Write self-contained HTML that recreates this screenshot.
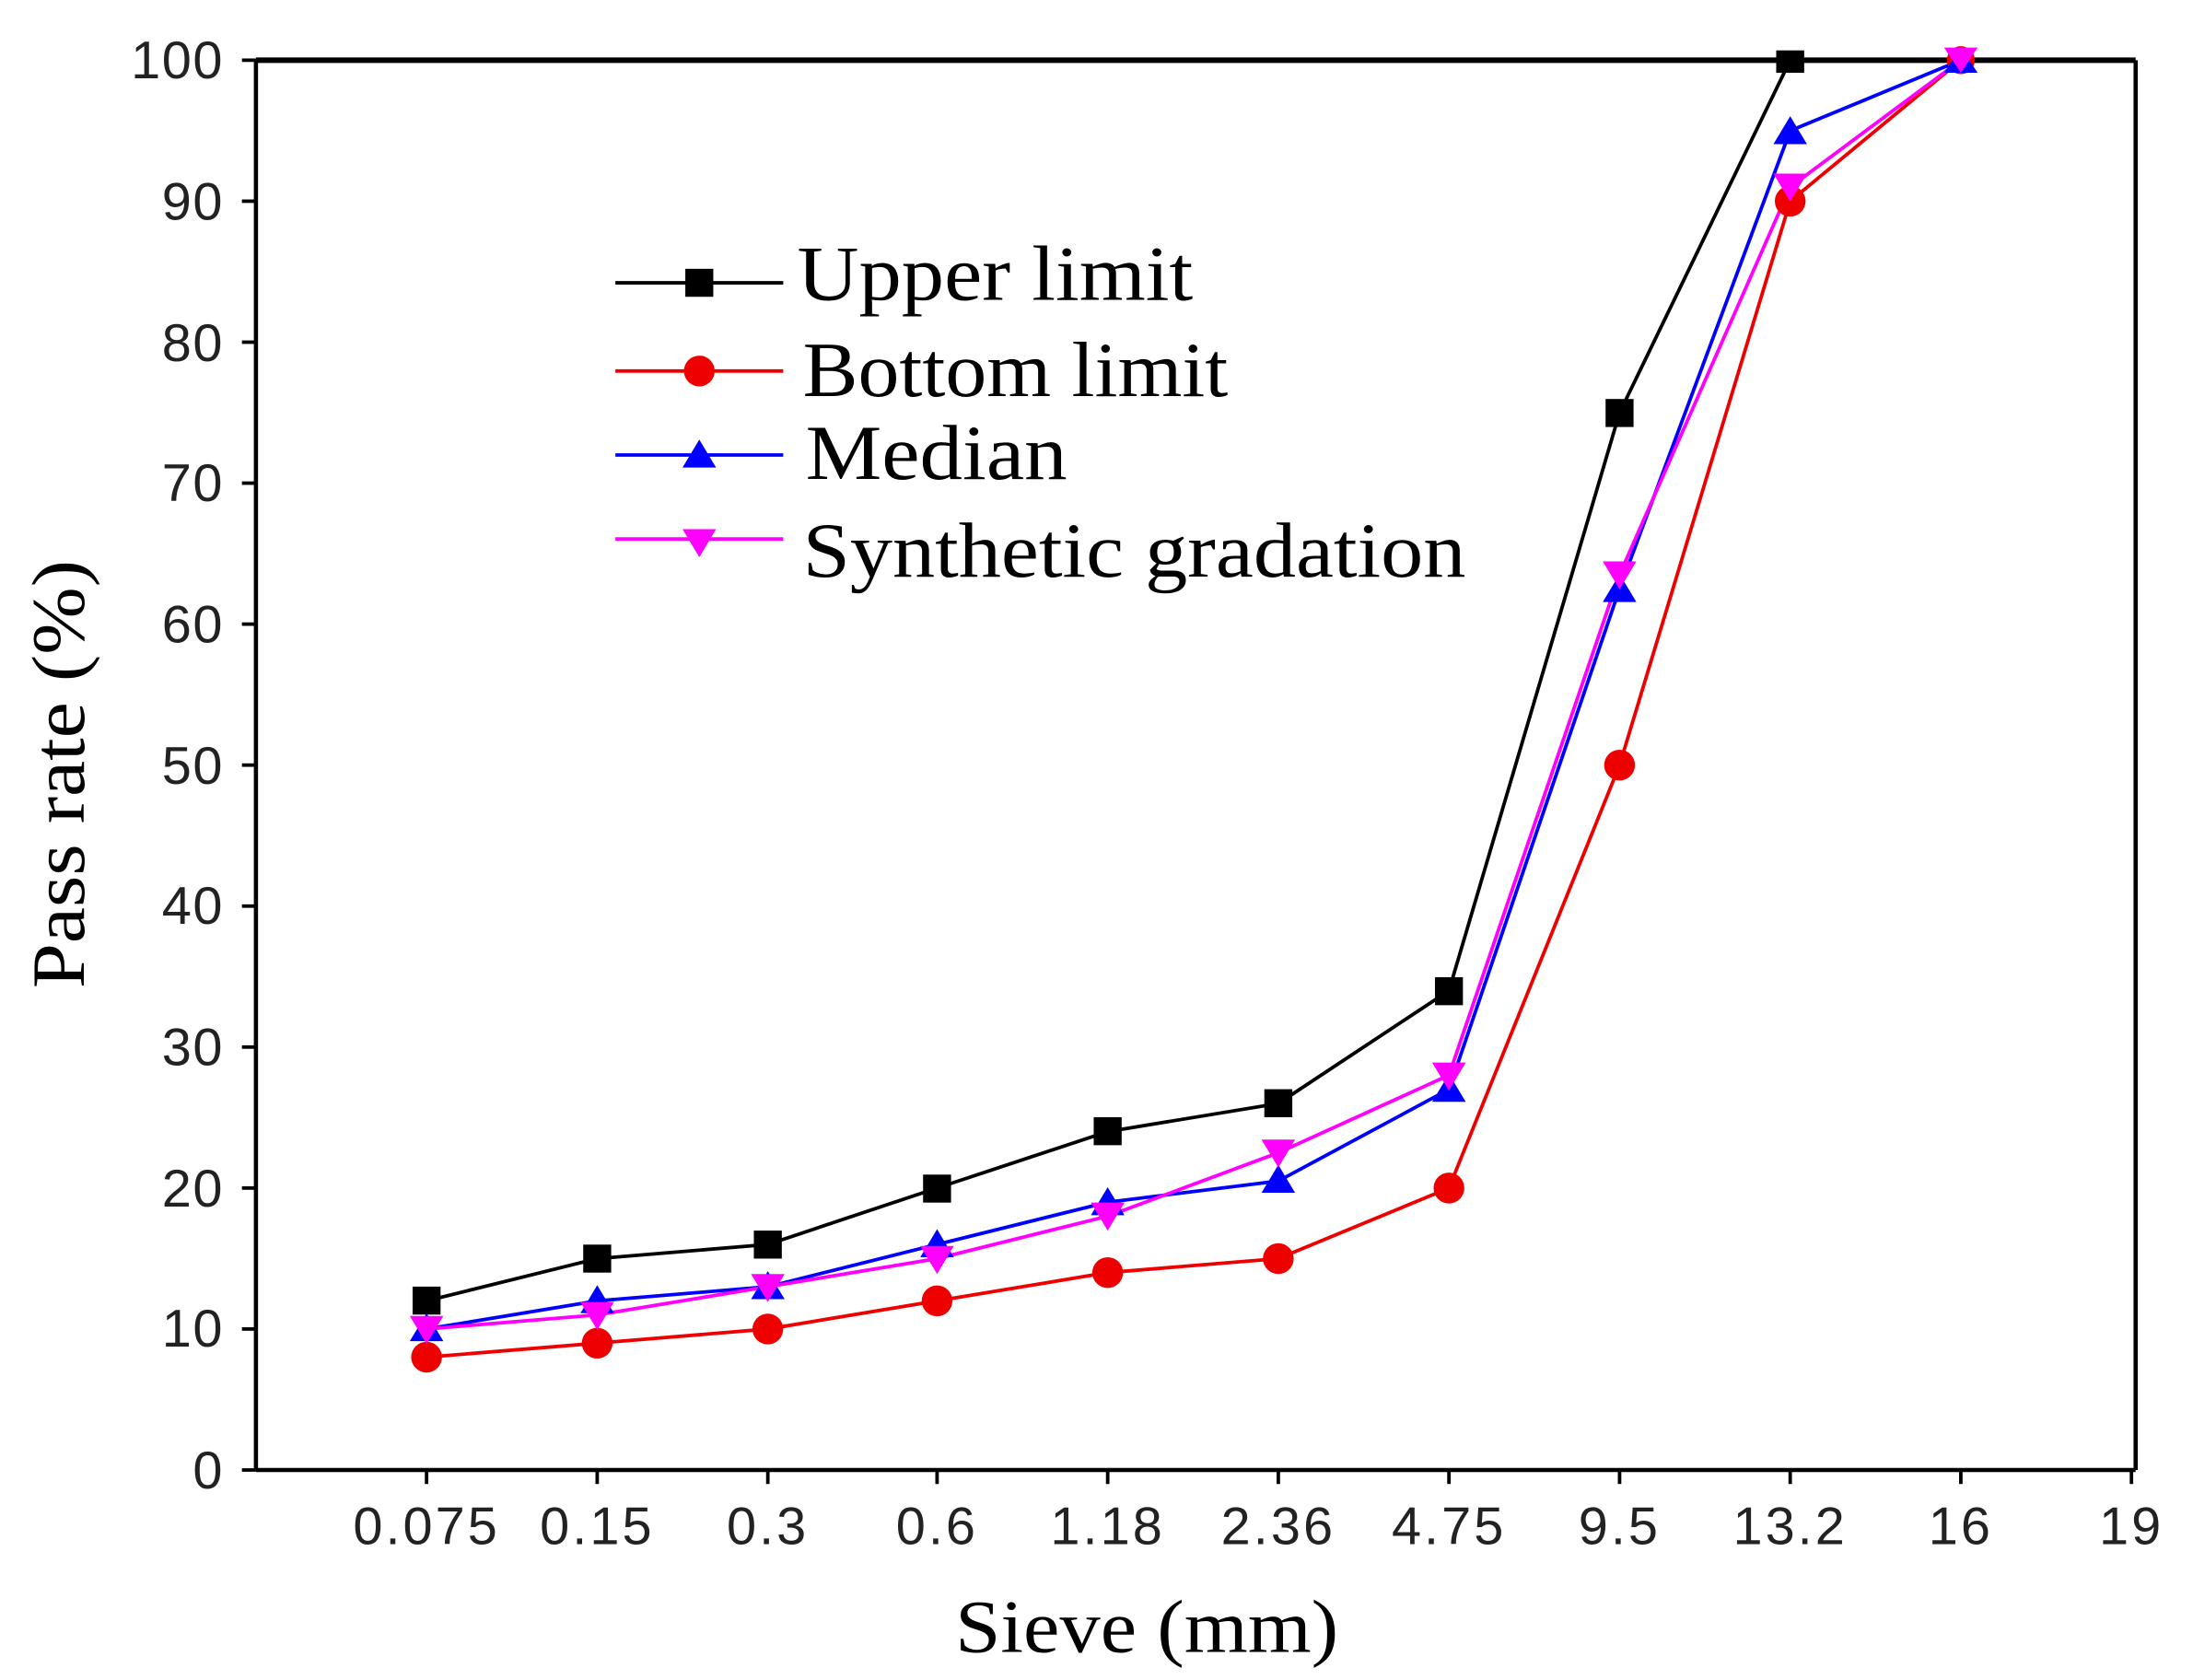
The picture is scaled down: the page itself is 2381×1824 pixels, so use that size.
<!DOCTYPE html>
<html><head><meta charset="utf-8"><style>html,body{margin:0;padding:0;background:#fff}svg{display:block}</style></head>
<body>
<svg width="2381" height="1824" viewBox="0 0 1568 1200" preserveAspectRatio="none" xmlns="http://www.w3.org/2000/svg">
<rect width="1568" height="1200" fill="#fff"/>
<g stroke="#000" stroke-width="3" fill="none">
<line x1="183" y1="43" x2="1527" y2="43" stroke-width="4"/>
<line x1="183" y1="43" x2="183" y2="1050"/>
<line x1="183" y1="1050" x2="1527" y2="1050"/>
<line x1="1527" y1="43" x2="1527" y2="1050"/>
</g>
<g stroke="#000" stroke-width="2.5">
<line x1="173" y1="1050" x2="183" y2="1050"/><line x1="173" y1="949.3" x2="183" y2="949.3"/><line x1="173" y1="848.6" x2="183" y2="848.6"/><line x1="173" y1="747.9" x2="183" y2="747.9"/><line x1="173" y1="647.2" x2="183" y2="647.2"/><line x1="173" y1="546.5" x2="183" y2="546.5"/><line x1="173" y1="445.8" x2="183" y2="445.8"/><line x1="173" y1="345.1" x2="183" y2="345.1"/><line x1="173" y1="244.4" x2="183" y2="244.4"/><line x1="173" y1="143.7" x2="183" y2="143.7"/><line x1="173" y1="43" x2="183" y2="43"/>
<line x1="305" y1="1050" x2="305" y2="1060"/><line x1="427" y1="1050" x2="427" y2="1060"/><line x1="549" y1="1050" x2="549" y2="1060"/><line x1="670" y1="1050" x2="670" y2="1060"/><line x1="792" y1="1050" x2="792" y2="1060"/><line x1="914" y1="1050" x2="914" y2="1060"/><line x1="1036" y1="1050" x2="1036" y2="1060"/><line x1="1158" y1="1050" x2="1158" y2="1060"/><line x1="1280" y1="1050" x2="1280" y2="1060"/><line x1="1402" y1="1050" x2="1402" y2="1060"/><line x1="1524" y1="1050" x2="1524" y2="1060"/>
</g>
<g font-family="Liberation Sans, sans-serif" font-size="38" fill="#222" text-anchor="end" letter-spacing="1">
<text x="160" y="1063">0</text><text x="160" y="962">10</text><text x="160" y="862">20</text><text x="160" y="761">30</text><text x="160" y="660">40</text><text x="160" y="560">50</text><text x="160" y="459">60</text><text x="160" y="358">70</text><text x="160" y="258">80</text><text x="160" y="157">90</text><text x="160" y="56">100</text>
</g>
<g font-family="Liberation Sans, sans-serif" font-size="38" fill="#222" text-anchor="middle" letter-spacing="2">
<text x="305" y="1103">0.075</text><text x="427" y="1103">0.15</text><text x="549" y="1103">0.3</text><text x="670" y="1103">0.6</text><text x="792" y="1103">1.18</text><text x="914" y="1103">2.36</text><text x="1036" y="1103">4.75</text><text x="1158" y="1103">9.5</text><text x="1280" y="1103">13.2</text><text x="1402" y="1103">16</text><text x="1524" y="1103">19</text>
</g>
<text x="683" y="1180" font-family="Liberation Serif, serif" font-size="54" textLength="274" lengthAdjust="spacingAndGlyphs">Sieve (mm)</text>
<text transform="translate(60,706) rotate(-90)" font-family="Liberation Serif, serif" font-size="54" textLength="306" lengthAdjust="spacingAndGlyphs">Pass rate (%)</text>
<polyline fill="none" stroke="#000" stroke-width="2.5" points="305,929.2 427,899 549,888.9 670,848.6 792,808.3 914,788.2 1036,707.6 1158,294.8 1280,43 1402,43"/>
<polyline fill="none" stroke="#e00" stroke-width="2.5" points="305,969.4 427,959.4 549,949.3 670,929.2 792,909 914,899 1036,848.6 1158,546.5 1280,143.7 1402,43"/>
<polyline fill="none" stroke="#00f" stroke-width="2.5" points="305,949.3 427,929.2 549,919.1 670,888.9 792,858.7 914,843.6 1036,778.1 1158,420.6 1280,93.4 1402,43"/>
<polyline fill="none" stroke="#f0f" stroke-width="2.5" points="305,949.3 427,939.2 549,919.1 670,899 792,868.7 914,823.4 1036,768 1158,410.5 1280,133.6 1402,43"/>
<g fill="#000">
<rect x="295" y="919" width="20" height="20"/><rect x="417" y="889" width="20" height="20"/><rect x="539" y="879" width="20" height="20"/><rect x="660" y="839" width="20" height="20"/><rect x="782" y="798" width="20" height="20"/><rect x="904" y="778" width="20" height="20"/><rect x="1026" y="698" width="20" height="20"/><rect x="1148" y="285" width="20" height="20"/><rect x="1270" y="36" width="20" height="16"/>
</g>
<g fill="#e00">
<circle cx="305" cy="969.4" r="11"/><circle cx="427" cy="959.4" r="11"/><circle cx="549" cy="949.3" r="11"/><circle cx="670" cy="929.2" r="11"/><circle cx="792" cy="909" r="11"/><circle cx="914" cy="899" r="11"/><circle cx="1036" cy="848.6" r="11"/><circle cx="1158" cy="546.5" r="11"/><circle cx="1280" cy="143.7" r="11"/><circle cx="1402" cy="43" r="10"/>
</g>
<g fill="#00f">
<path d="M305,938 l12,20 h-24z"/><path d="M427,918 l12,20 h-24z"/><path d="M549,908 l12,20 h-24z"/><path d="M670,878 l12,20 h-24z"/><path d="M792,848 l12,20 h-24z"/><path d="M914,832 l12,20 h-24z"/><path d="M1036,767 l12,20 h-24z"/><path d="M1158,410 l12,20 h-24z"/><path d="M1280,83 l12,20 h-24z"/><path d="M1402,34 l12,18 h-24z"/>
</g>
<g fill="#f0f">
<path d="M305,960 l12,-20 h-24z"/><path d="M427,950 l12,-20 h-24z"/><path d="M549,930 l12,-20 h-24z"/><path d="M670,910 l12,-20 h-24z"/><path d="M792,879 l12,-20 h-24z"/><path d="M914,834 l12,-20 h-24z"/><path d="M1036,779 l12,-20 h-24z"/><path d="M1158,421 l12,-20 h-24z"/><path d="M1280,144 l12,-20 h-24z"/><path d="M1402,52 l12,-18 h-24z"/>
</g>
<line x1="440" y1="202" x2="560" y2="202" stroke="#000" stroke-width="2.5"/><rect x="490" y="192" width="20" height="20" fill="#000"/>
<line x1="440" y1="265" x2="560" y2="265" stroke="#e00" stroke-width="2.5"/><circle cx="500" cy="265" r="11" fill="#e00"/>
<line x1="440" y1="325" x2="560" y2="325" stroke="#00f" stroke-width="2.5"/><path d="M500,314 l12,20 h-24z" fill="#00f"/>
<line x1="440" y1="385" x2="560" y2="385" stroke="#f0f" stroke-width="2.5"/><path d="M500,398 l12,-20 h-24z" fill="#f0f"/>
<g font-family="Liberation Serif, serif" font-size="56" fill="#000" lengthAdjust="spacingAndGlyphs">
<text x="570" y="214" textLength="283" lengthAdjust="spacingAndGlyphs">Upper limit</text>
<text x="574" y="283" textLength="304" lengthAdjust="spacingAndGlyphs">Bottom limit</text>
<text x="576" y="342" textLength="187" lengthAdjust="spacingAndGlyphs">Median</text>
<text x="574" y="412" textLength="474" lengthAdjust="spacingAndGlyphs">Synthetic gradation</text>
</g>
</svg>
</body></html>
